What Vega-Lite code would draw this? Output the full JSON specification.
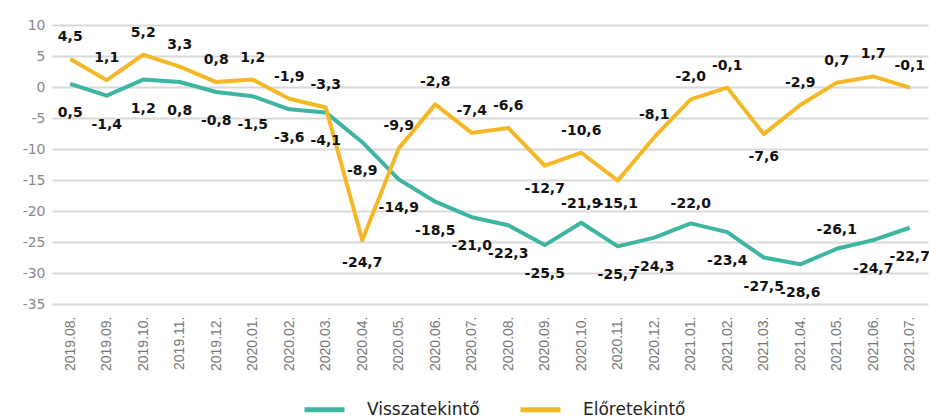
{
  "$schema": "https://vega.github.io/schema/vega-lite/v6.json",
  "width": 876,
  "height": 279,
  "autosize": {"type": "none"},
  "padding": {"left": 52, "top": 25, "right": 1, "bottom": 116},
  "background": "white",
  "config": {
    "locale": {"number": {"decimal": ",", "thousands": " ", "grouping": [3], "currency": ["", ""], "minus": "-"}},
    "view": {"stroke": null},
    "font": "DejaVu Sans"
  },
  "data": {
    "values": [
      {"month": "2019.08.", "series": "Visszatekintő", "value": 0.5},
      {"month": "2019.09.", "series": "Visszatekintő", "value": -1.4},
      {"month": "2019.10.", "series": "Visszatekintő", "value": 1.2},
      {"month": "2019.11.", "series": "Visszatekintő", "value": 0.8},
      {"month": "2019.12.", "series": "Visszatekintő", "value": -0.8},
      {"month": "2020.01.", "series": "Visszatekintő", "value": -1.5},
      {"month": "2020.02.", "series": "Visszatekintő", "value": -3.6},
      {"month": "2020.03.", "series": "Visszatekintő", "value": -4.1},
      {"month": "2020.04.", "series": "Visszatekintő", "value": -8.9},
      {"month": "2020.05.", "series": "Visszatekintő", "value": -14.9},
      {"month": "2020.06.", "series": "Visszatekintő", "value": -18.5},
      {"month": "2020.07.", "series": "Visszatekintő", "value": -21.0},
      {"month": "2020.08.", "series": "Visszatekintő", "value": -22.3},
      {"month": "2020.09.", "series": "Visszatekintő", "value": -25.5},
      {"month": "2020.10.", "series": "Visszatekintő", "value": -21.9},
      {"month": "2020.11.", "series": "Visszatekintő", "value": -25.7},
      {"month": "2020.12.", "series": "Visszatekintő", "value": -24.3},
      {"month": "2021.01.", "series": "Visszatekintő", "value": -22.0},
      {"month": "2021.02.", "series": "Visszatekintő", "value": -23.4},
      {"month": "2021.03.", "series": "Visszatekintő", "value": -27.5},
      {"month": "2021.04.", "series": "Visszatekintő", "value": -28.6},
      {"month": "2021.05.", "series": "Visszatekintő", "value": -26.1},
      {"month": "2021.06.", "series": "Visszatekintő", "value": -24.7},
      {"month": "2021.07.", "series": "Visszatekintő", "value": -22.7},
      {"month": "2019.08.", "series": "Előretekintő", "value": 4.5},
      {"month": "2019.09.", "series": "Előretekintő", "value": 1.1},
      {"month": "2019.10.", "series": "Előretekintő", "value": 5.2},
      {"month": "2019.11.", "series": "Előretekintő", "value": 3.3},
      {"month": "2019.12.", "series": "Előretekintő", "value": 0.8},
      {"month": "2020.01.", "series": "Előretekintő", "value": 1.2},
      {"month": "2020.02.", "series": "Előretekintő", "value": -1.9},
      {"month": "2020.03.", "series": "Előretekintő", "value": -3.3},
      {"month": "2020.04.", "series": "Előretekintő", "value": -24.7},
      {"month": "2020.05.", "series": "Előretekintő", "value": -9.9},
      {"month": "2020.06.", "series": "Előretekintő", "value": -2.8},
      {"month": "2020.07.", "series": "Előretekintő", "value": -7.4},
      {"month": "2020.08.", "series": "Előretekintő", "value": -6.6},
      {"month": "2020.09.", "series": "Előretekintő", "value": -12.7},
      {"month": "2020.10.", "series": "Előretekintő", "value": -10.6},
      {"month": "2020.11.", "series": "Előretekintő", "value": -15.1},
      {"month": "2020.12.", "series": "Előretekintő", "value": -8.1},
      {"month": "2021.01.", "series": "Előretekintő", "value": -2.0},
      {"month": "2021.02.", "series": "Előretekintő", "value": -0.1},
      {"month": "2021.03.", "series": "Előretekintő", "value": -7.6},
      {"month": "2021.04.", "series": "Előretekintő", "value": -2.9},
      {"month": "2021.05.", "series": "Előretekintő", "value": 0.7},
      {"month": "2021.06.", "series": "Előretekintő", "value": 1.7},
      {"month": "2021.07.", "series": "Előretekintő", "value": -0.1}
    ]
  },
  "encoding": {
    "x": {
      "field": "month", "type": "ordinal", "sort": null,
      "scale": {"type": "point", "padding": 0.5},
      "axis": {"title": null, "labelAngle": -90, "labelFont": "Liberation Sans", "labelFontSize": 14, "labelColor": "#777777", "labelPadding": 12, "ticks": false, "domain": false, "grid": false}
    },
    "y": {
      "field": "value", "type": "quantitative",
      "scale": {"domain": [-35, 10], "nice": false, "zero": false},
      "axis": {"title": null, "values": [-35, -30, -25, -20, -15, -10, -5, 0, 5, 10], "format": "d", "labelFontSize": 14, "labelColor": "#888888", "labelPadding": 7, "ticks": false, "domain": false, "grid": true, "gridColor": "#d9d9d9", "gridWidth": 2}
    }
  },
  "layer": [
    {
      "mark": {"type": "line", "strokeWidth": 4, "strokeJoin": "round"},
      "encoding": {
        "color": {
          "field": "series", "type": "nominal",
          "scale": {"domain": ["Visszatekintő", "Előretekintő"], "range": ["#3db5a1", "#f4b827"]},
          "legend": {"title": null, "orient": "none", "legendX": 250, "legendY": 362, "direction": "horizontal", "symbolType": "stroke", "symbolStrokeWidth": 5, "symbolSize": 1600, "labelFontSize": 17, "labelColor": "#222222", "labelOffset": 20, "columnPadding": 30}
        }
      }
    },
    {
      "transform": [{"filter": "datum.series === 'Visszatekintő' && indexof(['2020.10.', '2021.01.', '2021.05.'], datum.month) < 0"}],
      "mark": {"type": "text", "dy": 29, "fontSize": 14, "fontWeight": "bold", "color": "#111111"},
      "encoding": {"text": {"field": "value", "type": "quantitative", "format": ".1f"}}
    },
    {
      "transform": [{"filter": "datum.series === 'Visszatekintő' && indexof(['2020.10.', '2021.01.', '2021.05.'], datum.month) >= 0"}],
      "mark": {"type": "text", "dy": -19, "fontSize": 14, "fontWeight": "bold", "color": "#111111"},
      "encoding": {"text": {"field": "value", "type": "quantitative", "format": ".1f"}}
    },
    {
      "transform": [{"filter": "datum.series === 'Előretekintő' && indexof(['2020.04.', '2020.09.', '2020.11.', '2021.03.'], datum.month) < 0"}],
      "mark": {"type": "text", "dy": -22, "fontSize": 14, "fontWeight": "bold", "color": "#111111"},
      "encoding": {"text": {"field": "value", "type": "quantitative", "format": ".1f"}}
    },
    {
      "transform": [{"filter": "datum.series === 'Előretekintő' && indexof(['2020.04.', '2020.09.', '2020.11.', '2021.03.'], datum.month) >= 0"}],
      "mark": {"type": "text", "dy": 23, "fontSize": 14, "fontWeight": "bold", "color": "#111111"},
      "encoding": {"text": {"field": "value", "type": "quantitative", "format": ".1f"}}
    }
  ]
}
